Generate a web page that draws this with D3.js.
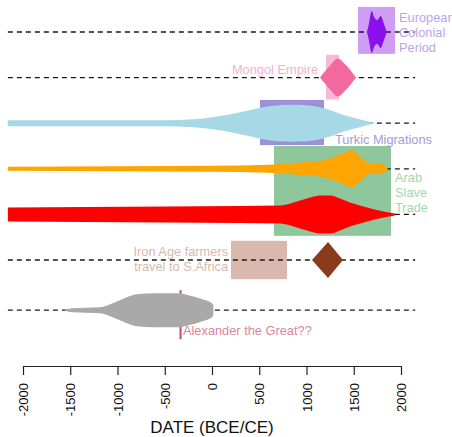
<!DOCTYPE html>
<html>
<head>
<meta charset="utf-8">
<script src="https://cdn.jsdelivr.net/npm/d3@7"></script>
<style>
body { margin: 0; background: #fff; }
text { font-family: "Liberation Sans", Arial, sans-serif; }
</style>
</head>
<body>
<div id="chart"></div>
<script>
// tick labels of the date axis
var tickYears = [-2000, -1500, -1000, -500, 0, 500, 1000, 1500, 2000];

// row of each lineage, top to bottom
var rowLevels = [7, 6, 5, 4, 3, 2, 0.9];

// historical periods (years)
var periodStart = [1545, 1206, 508, 656, 201];
var periodEnd   = [1937, 1344, 1185, 1894, 794];

// violins: [year, density]
var colonialViolin = [[1640,0],[1660,8],[1690,21],[1720,14],[1750,12],[1785,16],[1820,8],[1850,0]];
var mongolViolin   = [[1143,0],[1250,12],[1330,19],[1410,13],[1524,0]];
var turkicViolin   = [[-2160,3],[-500,3],[-200,4],[0,6],[200,9],[400,13],[508,15.5],[700,18],[850,18.5],[1000,18],[1185,15],[1400,8],[1600,3],[1725,0]];
var arabViolin     = [[-2160,2],[-1000,2.5],[0,3],[600,4],[900,6],[1150,8],[1300,12],[1400,16],[1481,18.5],[1560,13],[1630,7],[1690,5],[1750,5.5],[1820,4],[1862,0]];
var redViolin      = [[-2160,7],[-500,8],[300,8.5],[720,9],[830,11],[931,14],[1040,17],[1143,19],[1250,19],[1354,16],[1460,12],[1566,9],[1720,5],[1937,1]];
var bantuViolin    = [[1058,0],[1228,18],[1386,0]];
var greyViolin     = [[-1556,0.5],[-1480,2],[-1185,3],[-1050,7],[-900,13],[-800,16],[-600,17],[-350,17],[-250,15],[-100,11],[0,7],[12,5.5],[15,0]];

var alexanderYear = -333;

var width = 452, height = 437;
var svg = d3.select('#chart')
	.append('svg')
	.attr('width', width)
	.attr('height', height);

var x = d3.scaleLinear().domain([-2000, 2000]).range([23, 401]);
var y = d3.scaleLinear().domain([2, 7]).range([260, 32]);
var w = d3.scaleLinear().domain([0, 20]).range([0, 20]);

// period rectangles (drawn first)
var bands = [[6.52, 7.55], [5.52, 6.5], [4.52, 5.51], [2.53, 4.5], [1.58, 2.42]];
var bandColors = ['#cf9ef4', '#f8b8d7', '#9c90d6', '#8ec79b', '#d9b8ad'];
svg.selectAll('rect.period')
	.data(periodStart)
	.enter()
	.append('rect')
	.attr('class', 'period')
	.attr('x', function(d, i){ return x(d); })
	.attr('width', function(d, i){ return x(periodEnd[i]) - x(d); })
	.attr('y', function(d, i){ return y(bands[i][1]); })
	.attr('height', function(d, i){ return y(bands[i][0]) - y(bands[i][1]); })
	.attr('fill', function(d, i){ return bandColors[i]; });

// dashed guide lines
svg.selectAll('line.guide')
	.data(rowLevels)
	.enter()
	.append('line')
	.attr('class', 'guide')
	.attr('x1', x(-2160))
	.attr('x2', x(2150))
	.attr('y1', function(d){ return y(d); })
	.attr('y2', function(d){ return y(d); })
	.attr('stroke', '#1a1a1a')
	.attr('stroke-width', 1.3)
	.attr('stroke-dasharray', '5,4');

// Alexander marker
svg.append('line')
	.attr('x1', x(alexanderYear)).attr('x2', x(alexanderYear))
	.attr('y1', y(0.9) - 20).attr('y2', y(0.9) + 29)
	.attr('stroke', '#c24a6c')
	.attr('stroke-width', 2);

// violins
var violins = [colonialViolin, mongolViolin, turkicViolin, arabViolin, redViolin, bantuViolin, greyViolin];
var violinColors = ['#8a10ee', '#f2699f', '#a6d8e6', '#ffa500', '#ff0000', '#8b3b1c', '#a9a9a9'];
violins.forEach(function(v, i){
	var lvl = rowLevels[i];
	var area = d3.area()
		.x(function(d){ return x(d[0]); })
		.y0(function(d){ return y(lvl) - w(d[1]); })
		.y1(function(d){ return y(lvl) + w(d[1]); })
		.curve(v.length > 3 ? d3.curveMonotoneX : d3.curveLinear);
	svg.append('path')
		.datum(v)
		.attr('d', area)
		.attr('fill', violinColors[i]);
});

// period labels
var labels = [
	{lines: ['European', 'Colonial', 'Period'], year: 1979, top: 18, anchor: 'start', color: '#bba4ee'},
	{lines: ['Mongol Empire'], year: 1122, top: 70, anchor: 'end', color: '#f8b0cb'},
	{lines: ['Turkic Migrations'], year: 1302, top: 140, anchor: 'start', color: '#a29ed6'},
	{lines: ['Arab', 'Slave', 'Trade'], year: 1937, top: 178, anchor: 'start', color: '#a6d6ae'},
	{lines: ['Iron Age farmers', 'travel to S.Africa'], year: 170, top: 252, anchor: 'end', color: '#d6b9ad'},
	{lines: ['Alexander the Great??'], year: -307, top: 331, anchor: 'start', color: '#d8869c'}
];
labels.forEach(function(l){
	svg.append('g').selectAll('text')
		.data(l.lines)
		.enter()
		.append('text')
		.text(function(d){ return d; })
		.attr('x', x(l.year))
		.attr('y', function(d, i){ return l.top + i * 15; })
		.attr('dy', '0.35em')
		.attr('font-size', 12.8)
		.attr('text-anchor', l.anchor)
		.attr('fill', l.color);
});

// date axis
var axis = svg.append('g')
	.attr('transform', 'translate(0,366)')
	.call(d3.axisBottom(x).tickValues(tickYears).tickFormat(d3.format('d')).tickSize(9).tickSizeOuter(0));
axis.select('.domain').attr('stroke', '#222').attr('stroke-width', 1.2);
axis.selectAll('.tick line').attr('stroke', '#222').attr('stroke-width', 1.2);
axis.selectAll('.tick text')
	.text(function(d){ return d < 0 ? '-' + Math.abs(d) : d; })
	.attr('transform', 'rotate(-90)')
	.attr('x', -17)
	.attr('y', 0)
	.attr('dy', '0.35em')
	.attr('text-anchor', 'end')
	.attr('font-size', 13)
	.attr('font-family', '"Liberation Sans", Arial, sans-serif')
	.attr('fill', '#111');

svg.append('text')
	.text('DATE (BCE/CE)')
	.attr('x', x(0))
	.attr('y', 433)
	.attr('font-size', 17)
	.attr('text-anchor', 'middle')
	.attr('fill', '#111');
</script>
</body>
</html>
